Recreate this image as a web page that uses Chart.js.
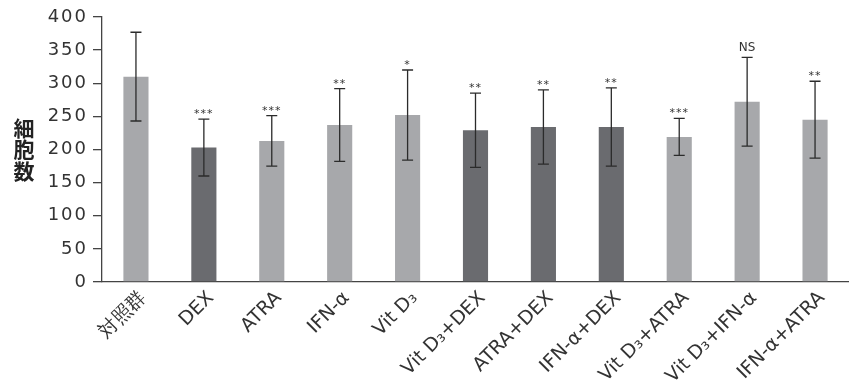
<!DOCTYPE html>
<html>
<head>
<meta charset="utf-8">
<script src="https://cdn.jsdelivr.net/npm/chart.js@4"></script>
<style>
  html, body { margin: 0; padding: 0; background: #fff; overflow: hidden; }
  #wrap { position: relative; width: 849px; height: 385px; }
</style>
</head>
<body>
<div id="wrap"><canvas id="cellChart"></canvas></div>
<script>
// 各群のデータ
const categories = ['対照群', 'DEX', 'ATRA', 'IFN-α', 'Vit D₃', 'Vit D₃+DEX', 'ATRA+DEX', 'IFN-α+DEX', 'Vit D₃+ATRA', 'Vit D₃+IFN-α', 'IFN-α+ATRA'];
const meanValues = [310, 203, 213, 237, 252, 229, 234, 234, 219, 272, 245];
const sdValues = [67, 43, 38, 55, 68, 56, 56, 59, 28, 67, 58];
const sigLabels = ['', '***', '***', '**', '*', '**', '**', '**', '***', 'NS', '**'];
const barShades = ['light', 'dark', 'light', 'light', 'light', 'dark', 'dark', 'dark', 'light', 'light', 'light'];
const yTitle = ['細', '胞', '数'];

const shadeColors = { light: '#a7a8ab', dark: '#6a6b6f' };
const textColor = '#333';

// エラーバーと有意差表示
const errorBars = {
    id: 'errorBars',
    beforeDraw(chart) { chart.ctx.letterSpacing = '0px'; },
    afterDatasetsDraw(chart) {
        const { ctx, scales: { y } } = chart;
        const meta = chart.getDatasetMeta(0);
        ctx.save();
        ctx.strokeStyle = '#2b2b2b';
        ctx.lineWidth = 1.3;
        meta.data.forEach((bar, i) => {
            const top = y.getPixelForValue(meanValues[i] + sdValues[i]);
            const bottom = y.getPixelForValue(meanValues[i] - sdValues[i]);
            const cap = 5.5;
            ctx.beginPath();
            ctx.moveTo(bar.x, top);
            ctx.lineTo(bar.x, bottom);
            ctx.moveTo(bar.x - cap, top);
            ctx.lineTo(bar.x + cap, top);
            ctx.moveTo(bar.x - cap, bottom);
            ctx.lineTo(bar.x + cap, bottom);
            ctx.stroke();

            const label = sigLabels[i];
            if (!label) return;
            ctx.fillStyle = textColor;
            ctx.textAlign = 'center';
            ctx.textBaseline = 'alphabetic';
            if (label === 'NS') {
                ctx.letterSpacing = '0px';
                ctx.font = '12px "DejaVu Sans"';
                ctx.fillText(label, bar.x, top - 6);
            } else {
                ctx.letterSpacing = '1px';
                ctx.font = '11px "DejaVu Sans"';
                ctx.fillText(label, bar.x, top - 2);
            }
        });
        ctx.restore();
        // y軸の目盛ラベルはこの後に描かれるので字間を広げておく
        ctx.letterSpacing = '2px';
    },
    afterDraw(chart) {
        // 縦書きの軸タイトル
        const { ctx } = chart;
        ctx.save();
        ctx.letterSpacing = '0px';
        ctx.fillStyle = '#222';
        ctx.font = 'bold 21px "Noto Sans CJK JP"';
        ctx.textAlign = 'center';
        ctx.textBaseline = 'middle';
        yTitle.forEach((ch, i) => ctx.fillText(ch, 24, 128 + i * 21.5));
        ctx.restore();
        ctx.letterSpacing = '0px';
    }
};

const ctx = document.getElementById('cellChart').getContext('2d');
new Chart(ctx, {
    type: 'bar',
    data: {
        labels: categories,
        datasets: [{
            data: meanValues,
            backgroundColor: barShades.map(s => shadeColors[s]),
            borderWidth: 0,
            categoryPercentage: 1,
            barPercentage: 0.37
        }]
    },
    options: {
        responsive: true,
        maintainAspectRatio: false,
        animation: false,
        layout: { padding: { top: 17, right: 0, bottom: 0, left: 0 } },
        plugins: {
            legend: { display: false },
            tooltip: { enabled: false }
        },
        scales: {
            x: {
                grid: { display: false },
                border: { display: true, color: '#444', width: 1.3 },
                ticks: {
                    color: textColor,
                    font: { family: '"DejaVu Sans"', size: 19 },
                    minRotation: 45,
                    maxRotation: 45,
                    autoSkip: false,
                    labelOffset: 7,
                    padding: -3
                },
                afterFit: (scale) => { scale.height = 103; }
            },
            y: {
                min: 0,
                max: 400,
                ticks: {
                    stepSize: 50,
                    color: textColor,
                    font: { family: '"DejaVu Sans"', size: 18 },
                    padding: 5,
                    z: 1
                },
                grid: { drawOnChartArea: false, drawTicks: true, tickLength: 9, color: '#444', lineWidth: 1.3 },
                border: { display: true, color: '#444', width: 1.3 },
                afterFit: (scale) => { scale.width = 102; }
            }
        }
    },
    plugins: [errorBars]
});
</script>
</body>
</html>
